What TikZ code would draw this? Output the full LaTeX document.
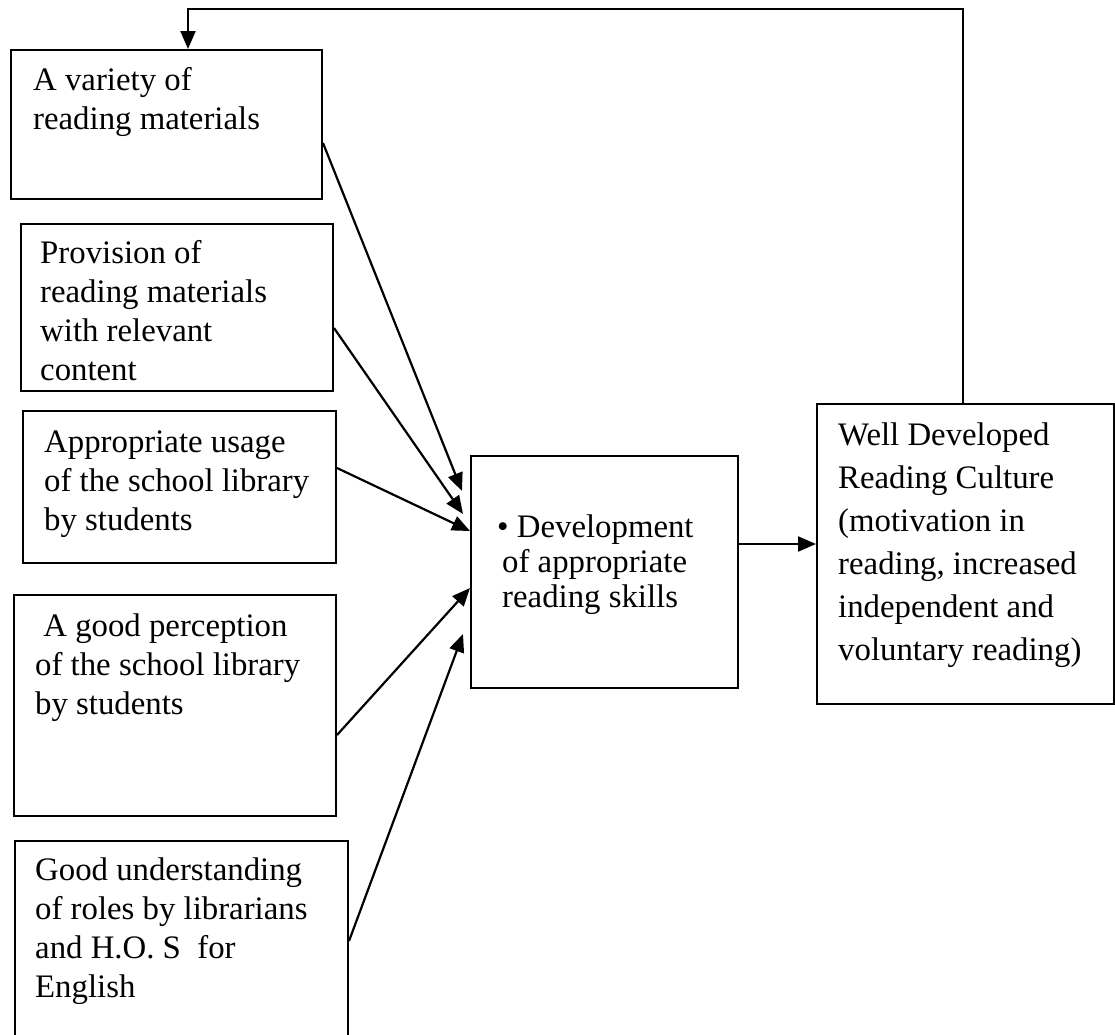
\documentclass[tikz,border=0pt]{standalone}
\usepackage{fontspec}
\setmainfont{Liberation Serif}
\usetikzlibrary{arrows.meta}
\begin{document}
\begin{tikzpicture}[x=1pt, y=-1pt,
    box/.style={draw, line width=2pt, anchor=north west, inner sep=0pt},
    txt/.style={anchor=north west, inner sep=0pt, align=left, font=\fontsize{32.8}{39}\selectfont},
    arr/.style={line width=2.2pt, -{Triangle[length=18pt, width=15pt]}}]
    \useasboundingbox (0,0) rectangle (1115,1034);
    % boxes on the left
    \node[box, minimum width=311pt, minimum height=149pt] (variety) at (10,49) {};
    \node[box, minimum width=312pt, minimum height=167pt] (provision) at (20,223) {};
    \node[box, minimum width=313pt, minimum height=152pt] (usage) at (22,410) {};
    \node[box, minimum width=322pt, minimum height=221pt] (perception) at (13,594) {};
    \node[box, minimum width=333pt, minimum height=210pt] (roles) at (14,840) {};
    \node[txt] (varietytext) at (33,62.7) {\strut A variety of\\reading materials};
    \node[txt] (provisiontext) at (40,235.7) {\strut Provision of\\reading materials\\with relevant\\content};
    \node[txt] (usagetext) at (44,424.7) {\strut Appropriate usage\\of the school library\\by students};
    \node[txt] (perceptiontext) at (35,608.7) {\strut\ A good perception\\of the school library\\by students};
    \node[txt] (rolestext) at (35,852.7) {\strut Good understanding\\of roles by librarians\\and H.O. S\ \ for\\English};
    % middle and right
    \node[box, minimum width=267pt, minimum height=232pt] (skills) at (470,455) {};
    \node[box, minimum width=297pt, minimum height=300pt] (culture) at (816,403) {};
    \node[txt, font=\fontsize{32.8}{35}\selectfont] (skillstext) at (497,512.5) {\strut\textbullet\ Development\\\hspace*{5pt}of appropriate\\\hspace*{5pt}reading skills};
    \node[txt, font=\fontsize{32.8}{43}\selectfont] (culturetext) at (838,414.9) {\strut Well Developed\\Reading Culture\\(motivation in\\reading, increased\\independent and\\voluntary reading)};
    % arrows
    \draw[arr] ([shift={(0,18.5)}]variety.east) -- ([shift={(-8,-81)}]skills.west);
    \draw[arr] ([shift={(0,20.5)}]provision.east) -- ([shift={(-7,-58)}]skills.west);
    \draw[arr] ([shift={(0,-19)}]usage.east) -- ([shift={(0,-41)}]skills.west);
    \draw[arr] ([shift={(0,29.5)}]perception.east) -- ([shift={(0,16)}]skills.west);
    \draw[arr] ([shift={(0,-5)}]roles.east) -- ([shift={(-7,62)}]skills.west);
    \coordinate (link) at ([shift={(0,-28)}]skills.east);
    \draw[arr] (link) -- (link -| culture.west);
    \coordinate (loop) at (575,9);
    \draw[arr] ([xshift=-2.5pt]culture.north) |- (loop) -| ([xshift=21.5pt]variety.north);
\end{tikzpicture}
\end{document}
